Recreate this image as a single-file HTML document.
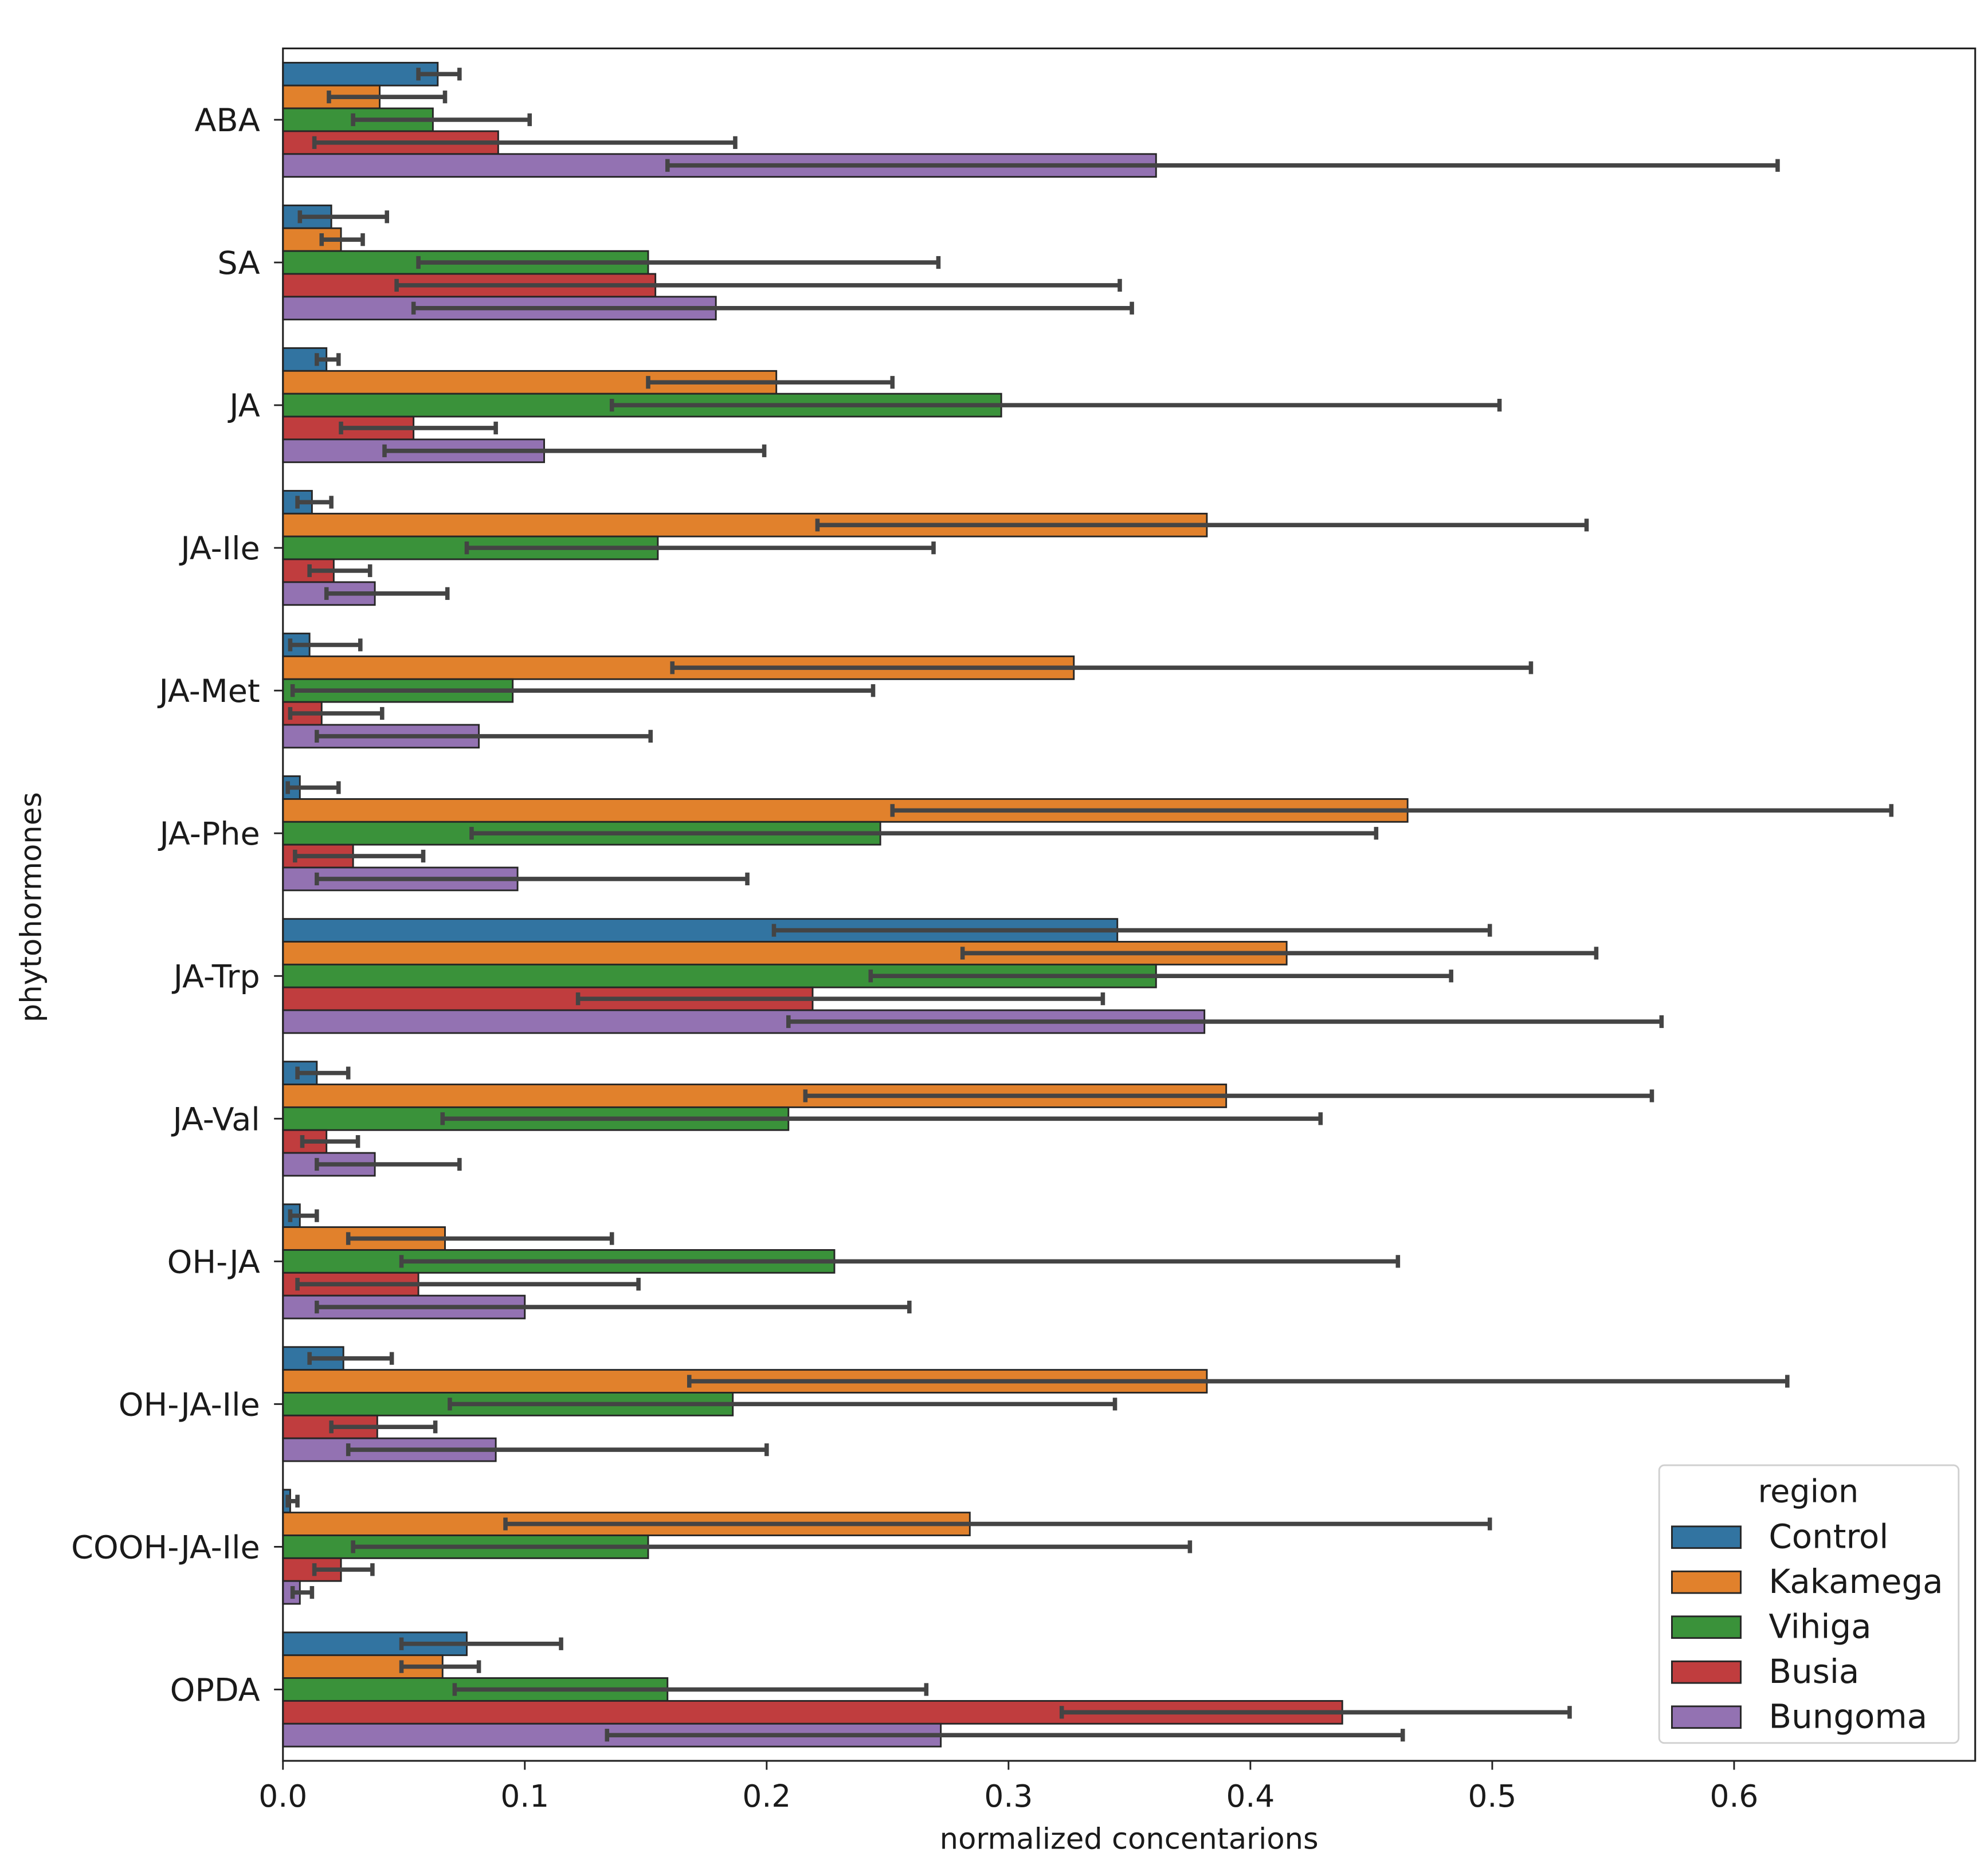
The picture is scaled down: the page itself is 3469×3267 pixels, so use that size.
<!DOCTYPE html>
<html><head><meta charset="utf-8"><style>
html,body{margin:0;padding:0;background:#fff}
svg text{font-family:"DejaVu Sans","Liberation Sans",sans-serif;fill:#1a1a1a}
</style></head><body>
<svg id="chart" xmlns="http://www.w3.org/2000/svg" width="3469" height="3262" viewBox="0 0 1560 1467">
<rect x="0" y="0" width="1560" height="1467" fill="#fff"/>
<g id="plot"></g>
</svg>
<script>
const categories = ["ABA","SA","JA","JA-Ile","JA-Met","JA-Phe","JA-Trp","JA-Val","OH-JA","OH-JA-Ile","COOH-JA-Ile","OPDA"];
const regions = ["Control","Kakamega","Vihiga","Busia","Bungoma"];
const colors = ["#3274a1","#e1812c","#3a923a","#c03d3e","#9372b2"];
const controlVals = [0.064,0.020,0.018,0.012,0.011,0.007,0.345,0.014,0.007,0.025,0.003,0.076];
const kakamegaVals = [0.040,0.024,0.204,0.382,0.327,0.465,0.415,0.390,0.067,0.382,0.284,0.066];
const vihigaVals = [0.062,0.151,0.297,0.155,0.095,0.247,0.361,0.209,0.228,0.186,0.151,0.159];
const busiaVals = [0.089,0.154,0.054,0.021,0.016,0.029,0.219,0.018,0.056,0.039,0.024,0.438];
const bungomaVals = [0.361,0.179,0.108,0.038,0.081,0.097,0.381,0.038,0.100,0.088,0.007,0.272];
const controlLo = [0.056,0.007,0.014,0.006,0.003,0.002,0.203,0.006,0.003,0.011,0.002,0.049];
const controlHi = [0.073,0.043,0.023,0.020,0.032,0.023,0.499,0.027,0.014,0.045,0.006,0.115];
const kakamegaLo = [0.019,0.016,0.151,0.221,0.161,0.252,0.281,0.216,0.027,0.168,0.092,0.049];
const kakamegaHi = [0.067,0.033,0.252,0.539,0.516,0.665,0.543,0.566,0.136,0.622,0.499,0.081];
const vihigaLo = [0.029,0.056,0.136,0.076,0.004,0.078,0.243,0.066,0.049,0.069,0.029,0.071];
const vihigaHi = [0.102,0.271,0.503,0.269,0.244,0.452,0.483,0.429,0.461,0.344,0.375,0.266];
const busiaLo = [0.013,0.047,0.024,0.011,0.003,0.005,0.122,0.008,0.006,0.020,0.013,0.322];
const busiaHi = [0.187,0.346,0.088,0.036,0.041,0.058,0.339,0.031,0.147,0.063,0.037,0.532];
const bungomaLo = [0.159,0.054,0.042,0.018,0.014,0.014,0.209,0.014,0.014,0.027,0.004,0.134];
const bungomaHi = [0.618,0.351,0.199,0.068,0.152,0.192,0.570,0.073,0.259,0.200,0.012,0.463];
const xTicks = [0.0,0.1,0.2,0.3,0.4,0.5,0.6];
const xTickLabels = ["0.0","0.1","0.2","0.3","0.4","0.5","0.6"];

const vals=[controlVals,kakamegaVals,vihigaVals,busiaVals,bungomaVals];
const los=[controlLo,kakamegaLo,vihigaLo,busiaLo,bungomaLo];
const his=[controlHi,kakamegaHi,vihigaHi,busiaHi,bungomaHi];
const L=222,R=1550,T=38,B=1382;
const xs=v=>L+v*1898;
const band=(B-T)/categories.length;
const yc=i=>T+band*(i+0.5);
const bh=band*0.8/regions.length;
const NS="http://www.w3.org/2000/svg";
const g=document.getElementById('plot');
function mk(tag,attrs,parent){const e=document.createElementNS(NS,tag);for(const k in attrs)e.setAttribute(k,attrs[k]);(parent||g).appendChild(e);return e;}

categories.forEach((c,i)=>{
  regions.forEach((r,j)=>{
    const y=yc(i)-band*0.4+j*bh;
    const rect=mk('rect',{x:xs(0),y:y,width:xs(vals[j][i])-xs(0),height:bh,fill:colors[j],stroke:'#262626','stroke-width':1.3});
    
    
  });
});
categories.forEach((c,i)=>{
  regions.forEach((r,j)=>{
    const y=yc(i)-band*0.4+(j+0.5)*bh;
    const eg=mk('g',{stroke:'#444','stroke-width':3.4});
    
    
    const a=xs(los[j][i]),b=xs(his[j][i]);
    mk('line',{x1:a,x2:b,y1:y,y2:y},eg);
    mk('line',{x1:a,x2:a,y1:y-5,y2:y+5},eg);
    mk('line',{x1:b,x2:b,y1:y-5,y2:y+5},eg);
  });
  const tk=mk('line',{x1:L-7,x2:L,y1:yc(i),y2:yc(i),stroke:'#222','stroke-width':1.3});
  
  
  const t=mk('text',{x:L-18,y:yc(i)+9,'text-anchor':'end','font-size':25});
  t.textContent=c;
  
  
});
xTicks.forEach((v,k)=>{
  const tk=mk('line',{x1:xs(v),x2:xs(v),y1:B,y2:B+7,stroke:'#222','stroke-width':1.3});
  
  
  const t=mk('text',{x:xs(v),y:B+36,'text-anchor':'middle','font-size':24});
  t.textContent=xTickLabels[k];
  
  
});
const frame=mk('rect',{x:L,y:T,width:R-L,height:B-T,fill:'none',stroke:'#222','stroke-width':1.4});


const xl=mk('text',{x:886,y:1451,'text-anchor':'middle','font-size':23});
xl.textContent='normalized concentarions';


const yl=mk('text',{x:0,y:0,'text-anchor':'middle','font-size':23,transform:'translate(32,712) rotate(-90)'});
yl.textContent='phytohormones';



const lg=mk('g',{});


mk('rect',{x:1302,y:1150,width:235,height:218,rx:4,fill:'#fff',stroke:'#d0d0d0','stroke-width':1.3,'fill-opacity':0.85},lg);
const lt=mk('text',{x:1419,y:1179,'text-anchor':'middle','font-size':25},lg);
lt.textContent='region';
regions.forEach((r,j)=>{
  const y=1206+j*35.3;
  const e=mk('g',{},lg);
  
  
  mk('rect',{x:1312,y:y-8,width:54,height:17,fill:colors[j],stroke:'#262626','stroke-width':1.3},e);
  const t=mk('text',{x:1388,y:y+9,'font-size':26},e);
  t.textContent=r;
});
</script>
</body></html>
